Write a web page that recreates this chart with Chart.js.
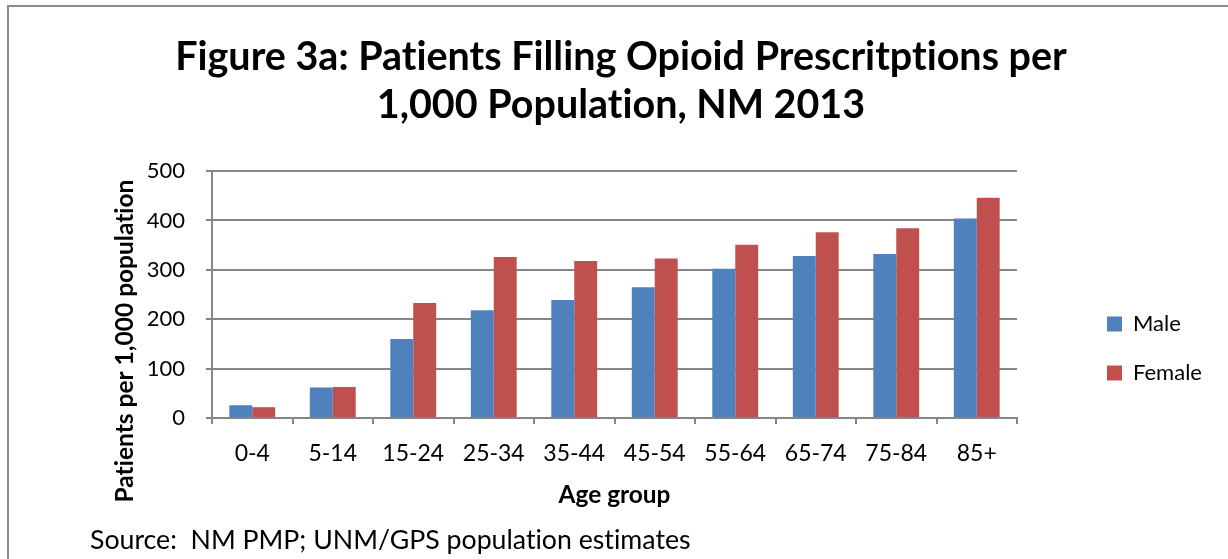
<!DOCTYPE html>
<html><head><meta charset="utf-8">
<script src="https://cdn.jsdelivr.net/npm/chart.js@4/dist/chart.umd.min.js"></script>
<style>html,body{margin:0;padding:0;background:#fff;overflow:hidden}</style>
</head><body>
<canvas id="c" width="1228" height="559" style="display:block;width:1228px;height:559px"></canvas>
<script>
// ---- data ----
const categories = ['0-4','5-14','15-24','25-34','35-44','45-54','55-64','65-74','75-84','85+'];
const maleValues = [26, 62, 160, 218, 239, 265, 302, 328, 332, 404];
const femaleValues = [22, 63, 233, 326, 318, 323, 351, 376, 384, 446];
const yTickValues = [0, 100, 200, 300, 400, 500];
const seriesNames = ['Male', 'Female'];
const titleLines = ['Figure 3a: Patients Filling Opioid Prescritptions per', '1,000 Population, NM 2013'];
const yTitle = 'Patients per 1,000 population';
const xTitle = 'Age group';
const sourceText = 'Source:  NM PMP; UNM/GPS population estimates';

// ---- styling / layout ----
const FONT = 'Lato, "Open Sans", sans-serif';
const mctx = document.createElement('canvas').getContext('2d');
if ('textRendering' in mctx) mctx.textRendering = 'optimizeSpeed';
function textW(text, size, weight) { mctx.font = (weight || 'normal') + ' ' + size + 'px ' + FONT; return mctx.measureText(text).width; }
function fitSize(text, weight, target) { return 100 * target / textW(text, 100, weight); }

const titleSize = fitSize(titleLines[0], 'bold', 892);
const yTitleSize = fitSize(yTitle, 'bold', 323);
const xTitleSize = fitSize(xTitle, 'bold', 112);
const sourceSize = fitSize(sourceText, 'normal', 601);
const xTickSize = 23;
const yTickSize = 22;
const legendSize = 22;
const boxSize = 15;
const legendPad = 49 - Math.max(legendSize, boxSize);
const legendW = legendPad + boxSize + legendSize / 2 + Math.max(...seriesNames.map(s => textW(s, legendSize))) + 10;
const plotLeft = 212, plotRight = 1017, titleCenter = 621;
const padRight = 1228 - plotRight - legendW;
const padLeft = 2 * titleCenter - 1228 + padRight;
const yAxisW = plotLeft - padLeft;
const GRID = '#868686';

const framePlugin = {
  id: 'frame',
  beforeDraw(chart) {
    const c = chart.ctx;
    if ('textRendering' in c) c.textRendering = 'optimizeSpeed';
    c.save();
    c.fillStyle = '#fff';
    c.fillRect(0, 0, chart.width, chart.height);
    c.strokeStyle = '#8a8a8a';
    c.lineWidth = 2;
    c.beginPath();
    c.moveTo(8, chart.height + 2);
    c.lineTo(8, 6);
    c.lineTo(chart.width + 2, 6);
    c.stroke();
    c.restore();
  },
  afterDraw(chart) {
    const c = chart.ctx;
    c.save();
    c.fillStyle = '#000';
    c.font = 'bold ' + yTitleSize + 'px ' + FONT;
    c.textAlign = 'center';
    c.textBaseline = 'middle';
    c.translate(125, 341);
    c.rotate(-Math.PI / 2);
    c.fillText(yTitle, 0, 0);
    c.restore();
    c.save();
    c.fillStyle = '#000';
    c.font = 'normal ' + sourceSize + 'px ' + FONT;
    c.textAlign = 'left';
    c.textBaseline = 'middle';
    c.fillText(sourceText, 90, 540);
    c.restore();
  }
};

const legendPlace = {
  id: 'legendPlace',
  afterLayout(chart) {
    const L = chart.legend;
    if (!L) return;
    const w = L.right - L.left, h = L.bottom - L.top;
    L.left = 1107 - legendPad; L.right = L.left + w;
    L.top = 324 - legendPad - Math.max(legendSize, boxSize) / 2; L.bottom = L.top + h;
  }
};

new Chart(document.getElementById('c'), {
  type: 'bar',
  data: {
    labels: categories,
    datasets: [
      { label: seriesNames[0], data: maleValues, backgroundColor: '#4F81BD' },
      { label: seriesNames[1], data: femaleValues, backgroundColor: '#C0504D' }
    ]
  },
  options: {
    responsive: false,
    animation: false,
    devicePixelRatio: 1,
    layout: { padding: { left: padLeft, right: padRight, top: 0, bottom: 49 } },
    datasets: { bar: { categoryPercentage: 0.57, barPercentage: 1.0 } },
    plugins: {
      title: {
        display: true, text: titleLines, color: '#000',
        font: { family: FONT, size: titleSize, weight: 'bold', lineHeight: '48px' },
        padding: { top: 33, bottom: 42 }
      },
      legend: {
        position: 'right', align: 'start',
        labels: { boxWidth: boxSize, boxHeight: boxSize, padding: legendPad, color: '#000', font: { family: FONT, size: legendSize } }
      },
      tooltip: { enabled: false }
    },
    scales: {
      x: {
        grid: { drawOnChartArea: false, drawTicks: true, tickLength: 6, color: GRID, lineWidth: 2 },
        border: { color: GRID, width: 2 },
        ticks: { padding: 16, color: '#000', font: { family: FONT, size: xTickSize } },
        title: { display: true, text: xTitle, color: '#000', font: { family: FONT, size: xTitleSize, weight: 'bold' }, padding: { top: -3, bottom: 0 } }
      },
      y: {
        min: 0, max: 500,
        afterBuildTicks(scale) { scale.ticks = yTickValues.map(v => ({ value: v })); },
        afterFit(scale) { scale.width = yAxisW; },
        grid: { color: GRID, lineWidth: 2, tickLength: 6 },
        border: { color: GRID, width: 2 },
        ticks: { padding: 21, color: '#000', font: { family: FONT, size: yTickSize } }
      }
    }
  },
  plugins: [framePlugin, legendPlace]
});
</script>
</body></html>
